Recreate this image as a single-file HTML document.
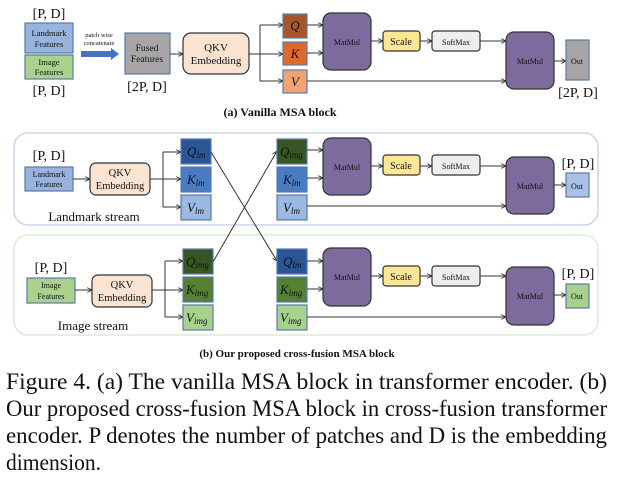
<!DOCTYPE html>
<html><head><meta charset="utf-8"><style>
html,body{margin:0;padding:0;background:#fff;}
svg{display:block;}
text{font-family:"Liberation Serif",serif;fill:#111;}
.b{stroke:#5a7aa8;stroke-width:1.2;}
.k{stroke:#333;stroke-width:1.2;}
.ln{stroke:#333;stroke-width:1;fill:none;}
.it{font-style:italic;font-size:13px;}
.sub{font-style:italic;font-size:9px;}
</style></head><body>
<svg width="617" height="482" viewBox="0 0 617 482" xmlns="http://www.w3.org/2000/svg">
<defs>
<marker id="a" viewBox="0 0 10 10" refX="9" refY="5" markerWidth="6" markerHeight="6" orient="auto"><path d="M1,1 L9,5 L1,9" fill="none" stroke="#333" stroke-width="1.5"/></marker>
</defs>

<!-- (a) -->
<text x="49" y="18" font-size="14" text-anchor="middle">[P, D]</text>
<rect x="25" y="23" width="48" height="30" fill="#98b3dd" class="b"/>
<text x="49" y="36" font-size="8.5" text-anchor="middle">Landmark</text>
<text x="49" y="47" font-size="8.5" text-anchor="middle">Features</text>
<rect x="25" y="55" width="48" height="24" fill="#a9d28c" stroke="#5a7aa8" stroke-width="1.2"/>
<text x="49" y="65" font-size="8.5" text-anchor="middle">Image</text>
<text x="49" y="75" font-size="8.5" text-anchor="middle">Features</text>
<text x="49" y="95" font-size="14" text-anchor="middle">[P, D]</text>
<text x="99" y="37" font-size="6.5" text-anchor="middle">patch wise</text>
<text x="99" y="45" font-size="6.5" text-anchor="middle">concatenate</text>
<path d="M81,51 L111,51 L111,48 L119,54 L111,60 L111,57 L81,57 Z" fill="#4472c4"/>
<rect x="125" y="33" width="45" height="41" fill="#a8a5a6" class="b"/>
<text x="147" y="51" font-size="9.5" text-anchor="middle">Fused</text>
<text x="147" y="62" font-size="9.5" text-anchor="middle">Features</text>
<text x="147" y="91" font-size="14" text-anchor="middle">[2P, D]</text>
<line x1="170" y1="54" x2="183" y2="54" class="ln" marker-end="url(#a)"/>
<rect x="183" y="33" width="66" height="41" rx="8" fill="#fbe3d2" class="k"/>
<text x="216" y="51" font-size="11" text-anchor="middle">QKV</text>
<text x="216" y="64" font-size="11" text-anchor="middle">Embedding</text>
<path d="M249,54 L260,54 M260,25 L260,81" class="ln"/>
<line x1="260" y1="25" x2="283" y2="25" class="ln" marker-end="url(#a)"/>
<line x1="260" y1="54" x2="283" y2="54" class="ln" marker-end="url(#a)"/>
<line x1="260" y1="81" x2="283" y2="81" class="ln" marker-end="url(#a)"/>
<rect x="283" y="14" width="24" height="24" fill="#a9552a" class="b"/>
<text x="295" y="30" class="it" text-anchor="middle">Q</text>
<rect x="283" y="42" width="24" height="23" fill="#e3692a" class="b"/>
<text x="295" y="58" class="it" text-anchor="middle">K</text>
<rect x="283" y="70" width="24" height="23" fill="#f0a472" class="b"/>
<text x="295" y="86" class="it" text-anchor="middle">V</text>
<line x1="307" y1="25" x2="323" y2="25" class="ln" marker-end="url(#a)"/>
<line x1="307" y1="53" x2="323" y2="53" class="ln" marker-end="url(#a)"/>
<line x1="307" y1="81" x2="506" y2="81" class="ln" marker-end="url(#a)"/>
<rect x="323" y="13" width="48" height="57" rx="8" fill="#7e6b9e" class="k"/>
<text x="347" y="45" font-size="8" text-anchor="middle">MatMul</text>
<line x1="371" y1="41" x2="383" y2="41" class="ln" marker-end="url(#a)"/>
<rect x="383" y="31" width="37" height="20" rx="3" fill="#fce796" class="k"/>
<text x="401" y="45" font-size="10" text-anchor="middle">Scale</text>
<line x1="420" y1="41" x2="432" y2="41" class="ln" marker-end="url(#a)"/>
<rect x="432" y="31" width="48" height="20" rx="3" fill="#eeeeee" class="k"/>
<text x="456" y="45" font-size="8" text-anchor="middle">SoftMax</text>
<line x1="480" y1="41" x2="506" y2="41" class="ln" marker-end="url(#a)"/>
<rect x="506" y="32" width="48" height="57" rx="8" fill="#7e6b9e" class="k"/>
<text x="530" y="64" font-size="8" text-anchor="middle">MatMul</text>
<line x1="554" y1="61" x2="566" y2="61" class="ln" marker-end="url(#a)"/>
<rect x="566" y="40" width="23" height="40" fill="#a8a5a6" class="b"/>
<text x="577" y="64" font-size="8" text-anchor="middle">Out</text>
<text x="578" y="97" font-size="14" text-anchor="middle">[2P, D]</text>
<text x="280" y="116" font-size="12" font-weight="bold" text-anchor="middle">(a) Vanilla MSA block</text>

<!-- (b) panels -->
<rect x="14" y="133" width="584" height="92" rx="14" fill="none" stroke="#bfcfea" stroke-width="1.3"/>
<rect x="14" y="235" width="584" height="100" rx="14" fill="none" stroke="#d8e8cc" stroke-width="1.3"/>

<!-- landmark stream -->
<text x="49" y="160" font-size="14" text-anchor="middle">[P, D]</text>
<rect x="25" y="167" width="48" height="24" fill="#98b3dd" class="b"/>
<text x="49" y="177" font-size="8" text-anchor="middle">Landmark</text>
<text x="49" y="187" font-size="8" text-anchor="middle">Features</text>
<line x1="73" y1="179" x2="90" y2="179" class="ln" marker-end="url(#a)"/>
<rect x="90" y="163" width="60" height="32" rx="6" fill="#fbe3d2" class="k"/>
<text x="120" y="176" font-size="10.5" text-anchor="middle">QKV</text>
<text x="120" y="189" font-size="10.5" text-anchor="middle">Embedding</text>
<path d="M150,179 L163,179 M163,152 L163,207" class="ln"/>
<line x1="163" y1="152" x2="181" y2="152" class="ln" marker-end="url(#a)"/>
<line x1="163" y1="179" x2="181" y2="179" class="ln" marker-end="url(#a)"/>
<line x1="163" y1="207" x2="181" y2="207" class="ln" marker-end="url(#a)"/>
<rect x="181" y="139" width="30" height="25" fill="#2a5597" class="b"/>
<text x="187" y="156" class="it">Q<tspan class="sub" dy="2">lm</tspan></text>
<rect x="181" y="167" width="30" height="25" fill="#4a7cc4" class="b"/>
<text x="187" y="184" class="it">K<tspan class="sub" dy="2">lm</tspan></text>
<rect x="181" y="195" width="30" height="25" fill="#9db8e2" class="b"/>
<text x="187" y="212" class="it">V<tspan class="sub" dy="2">lm</tspan></text>
<text x="94" y="221" font-size="13" text-anchor="middle">Landmark stream</text>

<!-- image stream -->
<text x="51" y="272" font-size="14" text-anchor="middle">[P, D]</text>
<rect x="27" y="278" width="48" height="25" fill="#a9d28c" class="b"/>
<text x="51" y="288" font-size="8" text-anchor="middle">Image</text>
<text x="51" y="299" font-size="8" text-anchor="middle">Features</text>
<line x1="75" y1="290" x2="92" y2="290" class="ln" marker-end="url(#a)"/>
<rect x="92" y="275" width="60" height="32" rx="6" fill="#fbe3d2" class="k"/>
<text x="122" y="288" font-size="10.5" text-anchor="middle">QKV</text>
<text x="122" y="301" font-size="10.5" text-anchor="middle">Embedding</text>
<path d="M152,290 L165,290 M165,261 L165,317" class="ln"/>
<line x1="165" y1="261" x2="183" y2="261" class="ln" marker-end="url(#a)"/>
<line x1="165" y1="290" x2="183" y2="290" class="ln" marker-end="url(#a)"/>
<line x1="165" y1="317" x2="183" y2="317" class="ln" marker-end="url(#a)"/>
<rect x="183" y="249" width="30" height="25" fill="#375623" class="b"/>
<text x="186" y="266" class="it">Q<tspan class="sub" dy="2">img</tspan></text>
<rect x="183" y="277" width="30" height="25" fill="#548235" class="b"/>
<text x="186" y="294" class="it">K<tspan class="sub" dy="2">img</tspan></text>
<rect x="183" y="305" width="30" height="25" fill="#a9d18e" class="b"/>
<text x="186" y="322" class="it">V<tspan class="sub" dy="2">img</tspan></text>
<text x="93" y="330" font-size="13" text-anchor="middle">Image stream</text>

<!-- cross lines -->
<line x1="211" y1="152" x2="277" y2="261" class="ln" marker-end="url(#a)"/>
<line x1="213" y1="262" x2="277" y2="151" class="ln" marker-end="url(#a)"/>

<!-- right column top -->
<rect x="277" y="139" width="30" height="25" fill="#375623" class="b"/>
<text x="280" y="156" class="it">Q<tspan class="sub" dy="2">img</tspan></text>
<rect x="277" y="167" width="30" height="25" fill="#4a7cc4" class="b"/>
<text x="283" y="184" class="it">K<tspan class="sub" dy="2">lm</tspan></text>
<rect x="277" y="195" width="30" height="25" fill="#9db8e2" class="b"/>
<text x="283" y="212" class="it">V<tspan class="sub" dy="2">lm</tspan></text>
<!-- right column bottom -->
<rect x="277" y="249" width="30" height="25" fill="#2a5597" class="b"/>
<text x="283" y="266" class="it">Q<tspan class="sub" dy="2">lm</tspan></text>
<rect x="277" y="277" width="30" height="25" fill="#548235" class="b"/>
<text x="280" y="294" class="it">K<tspan class="sub" dy="2">img</tspan></text>
<rect x="277" y="305" width="30" height="25" fill="#a9d18e" class="b"/>
<text x="280" y="322" class="it">V<tspan class="sub" dy="2">img</tspan></text>

<!-- top attention -->
<line x1="307" y1="150" x2="323" y2="150" class="ln" marker-end="url(#a)"/>
<line x1="307" y1="178" x2="323" y2="178" class="ln" marker-end="url(#a)"/>
<line x1="307" y1="206" x2="506" y2="206" class="ln" marker-end="url(#a)"/>
<rect x="323" y="138" width="48" height="57" rx="8" fill="#7e6b9e" class="k"/>
<text x="347" y="170" font-size="8" text-anchor="middle">MatMul</text>
<line x1="371" y1="166" x2="383" y2="166" class="ln" marker-end="url(#a)"/>
<rect x="383" y="155" width="37" height="20" rx="3" fill="#fce796" class="k"/>
<text x="401" y="169" font-size="10" text-anchor="middle">Scale</text>
<line x1="420" y1="166" x2="432" y2="166" class="ln" marker-end="url(#a)"/>
<rect x="432" y="155" width="48" height="20" rx="3" fill="#eeeeee" class="k"/>
<text x="456" y="169" font-size="8" text-anchor="middle">SoftMax</text>
<line x1="480" y1="166" x2="506" y2="166" class="ln" marker-end="url(#a)"/>
<rect x="506" y="157" width="48" height="57" rx="8" fill="#7e6b9e" class="k"/>
<text x="530" y="189" font-size="8" text-anchor="middle">MatMul</text>
<line x1="554" y1="185" x2="566" y2="185" class="ln" marker-end="url(#a)"/>
<rect x="566" y="173" width="23" height="24" fill="#a9c1e6" class="b"/>
<text x="577" y="189" font-size="8" text-anchor="middle">Out</text>
<text x="578" y="168" font-size="14" text-anchor="middle">[P, D]</text>

<!-- bottom attention -->
<line x1="307" y1="261" x2="323" y2="261" class="ln" marker-end="url(#a)"/>
<line x1="307" y1="289" x2="323" y2="289" class="ln" marker-end="url(#a)"/>
<line x1="307" y1="317" x2="506" y2="317" class="ln" marker-end="url(#a)"/>
<rect x="323" y="248" width="48" height="58" rx="8" fill="#7e6b9e" class="k"/>
<text x="347" y="280" font-size="8" text-anchor="middle">MatMul</text>
<line x1="371" y1="276" x2="383" y2="276" class="ln" marker-end="url(#a)"/>
<rect x="383" y="266" width="37" height="20" rx="3" fill="#fce796" class="k"/>
<text x="401" y="280" font-size="10" text-anchor="middle">Scale</text>
<line x1="420" y1="276" x2="432" y2="276" class="ln" marker-end="url(#a)"/>
<rect x="432" y="266" width="48" height="20" rx="3" fill="#eeeeee" class="k"/>
<text x="456" y="280" font-size="8" text-anchor="middle">SoftMax</text>
<line x1="480" y1="276" x2="506" y2="276" class="ln" marker-end="url(#a)"/>
<rect x="506" y="267" width="48" height="58" rx="8" fill="#7e6b9e" class="k"/>
<text x="530" y="299" font-size="8" text-anchor="middle">MatMul</text>
<line x1="554" y1="295" x2="566" y2="295" class="ln" marker-end="url(#a)"/>
<rect x="566" y="284" width="23" height="24" fill="#a9d18e" class="b"/>
<text x="577" y="299" font-size="8" text-anchor="middle">Out</text>
<text x="578" y="278" font-size="14" text-anchor="middle">[P, D]</text>

<text x="297" y="357" font-size="11" font-weight="bold" text-anchor="middle">(b) Our proposed cross-fusion MSA block</text>

<!-- caption -->
<text x="6" y="389" font-size="23" textLength="601" lengthAdjust="spacingAndGlyphs">Figure 4. (a) The vanilla MSA block in transformer encoder.  (b)</text>
<text x="6" y="416" font-size="23" textLength="601" lengthAdjust="spacingAndGlyphs">Our proposed cross-fusion MSA block in cross-fusion transformer</text>
<text x="6" y="443" font-size="23" textLength="601" lengthAdjust="spacingAndGlyphs">encoder. P denotes the number of patches and D is the embedding</text>
<text x="6" y="470" font-size="23" textLength="95" lengthAdjust="spacingAndGlyphs">dimension.</text>
</svg>
</body></html>
